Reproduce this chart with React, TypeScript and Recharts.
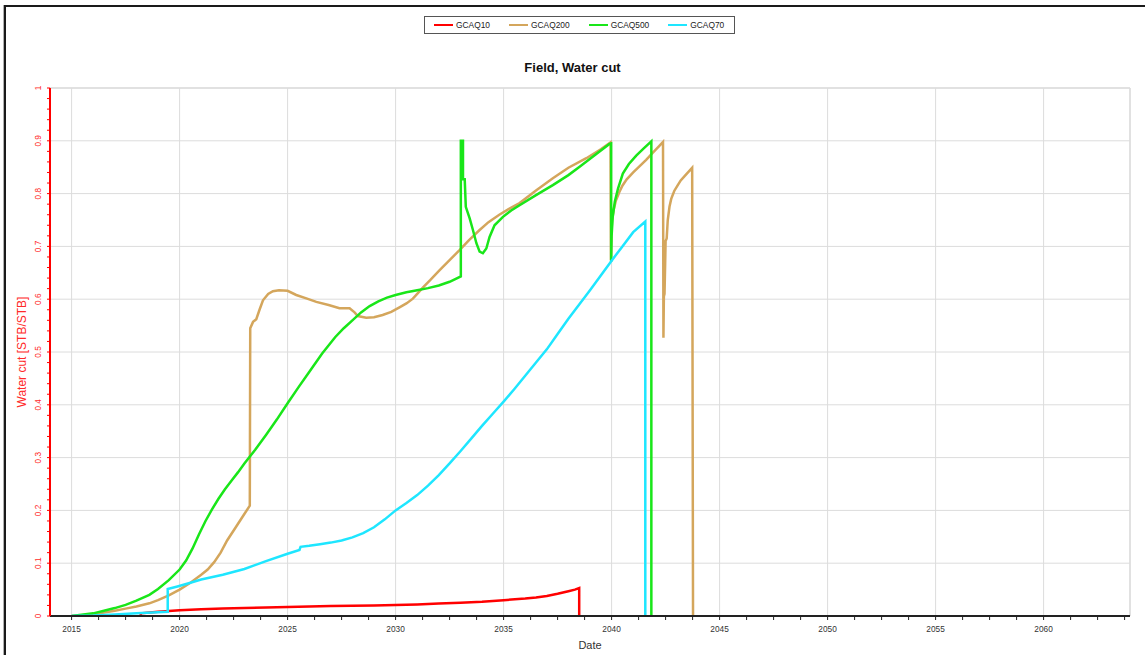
import React from 'react';
import { LineChart, Line, XAxis, YAxis, CartesianGrid, Legend, ReferenceLine } from 'recharts';

type Pt = [number, number];

const X_MAJOR = [2015, 2020, 2025, 2030, 2035, 2040, 2045, 2050, 2055, 2060];
const Y_MAJOR = [0, 0.1, 0.2, 0.3, 0.4, 0.5, 0.6, 0.7, 0.8, 0.9, 1];
const X_DOMAIN = [2014, 2064];

const GCAQ10: Pt[] = [
  [2018.2, 0], [2018.2, 0.005], [2019, 0.008], [2020, 0.011], [2021, 0.013], [2022, 0.014],
  [2023, 0.015], [2024, 0.016], [2025, 0.017], [2026, 0.018], [2027, 0.019], [2028, 0.0195],
  [2029, 0.02], [2030, 0.021], [2031, 0.022], [2032, 0.0235], [2033, 0.025], [2034, 0.027],
  [2035, 0.03], [2036, 0.033], [2036.5, 0.035], [2037, 0.038], [2037.5, 0.042], [2038, 0.047],
  [2038.3, 0.05], [2038.5, 0.053], [2038.5, 0],
];

const GCAQ200: Pt[] = [
  [2015, 0], [2015.5, 0.001], [2016, 0.003], [2016.3, 0.005], [2017, 0.01], [2017.5, 0.014],
  [2018, 0.018], [2018.6, 0.024], [2019, 0.03], [2019.5, 0.039], [2020, 0.05], [2020.5, 0.063],
  [2021, 0.078], [2021.3, 0.088], [2021.6, 0.102], [2021.9, 0.12], [2022.2, 0.143], [2022.6, 0.168],
  [2022.9, 0.187], [2023.25, 0.209], [2023.27, 0.545], [2023.4, 0.557], [2023.55, 0.562], [2023.7, 0.58],
  [2023.86, 0.598], [2024.1, 0.61], [2024.32, 0.615], [2024.6, 0.617], [2025, 0.616], [2025.4, 0.608],
  [2025.9, 0.601], [2026.33, 0.595], [2026.9, 0.589], [2027.4, 0.583], [2027.87, 0.583], [2028.1, 0.575],
  [2028.25, 0.568], [2028.64, 0.565], [2029, 0.566], [2029.4, 0.57], [2029.8, 0.576], [2030.2, 0.585],
  [2030.5, 0.592], [2030.8, 0.601], [2031, 0.61], [2031.26, 0.622], [2031.6, 0.636], [2032.04, 0.655],
  [2032.5, 0.674], [2032.96, 0.693], [2033.4, 0.712], [2033.89, 0.731], [2034.3, 0.746], [2034.8, 0.76],
  [2035.25, 0.771], [2035.74, 0.782], [2036.5, 0.806], [2037.28, 0.829], [2038, 0.849], [2038.83, 0.867],
  [2039.5, 0.884], [2039.95, 0.897], [2039.97, 0.674], [2039.99, 0.72], [2040.02, 0.75], [2040.1, 0.77],
  [2040.2, 0.787], [2040.35, 0.802], [2040.5, 0.815], [2040.7, 0.827], [2041, 0.84], [2041.3, 0.852],
  [2041.6, 0.864], [2041.9, 0.877], [2042.2, 0.89], [2042.38, 0.898], [2042.4, 0.527], [2042.42, 0.605],
  [2042.45, 0.61], [2042.48, 0.668], [2042.5, 0.71], [2042.55, 0.715], [2042.6, 0.75], [2042.68, 0.775],
  [2042.76, 0.79], [2042.9, 0.805], [2043.05, 0.815], [2043.2, 0.825], [2043.4, 0.834], [2043.6, 0.843],
  [2043.73, 0.849], [2043.77, 0],
];

const GCAQ500: Pt[] = [
  [2015, 0], [2016, 0.005], [2016.5, 0.01], [2017, 0.015], [2017.5, 0.021], [2018, 0.029],
  [2018.6, 0.04], [2019, 0.051], [2019.5, 0.068], [2020, 0.088], [2020.3, 0.105], [2020.6, 0.128],
  [2020.9, 0.155], [2021.2, 0.18], [2021.5, 0.202], [2021.8, 0.222], [2022.1, 0.24], [2022.4, 0.256],
  [2022.7, 0.272], [2023, 0.289], [2023.5, 0.315], [2024, 0.343], [2024.5, 0.372], [2025, 0.403],
  [2025.5, 0.433], [2026, 0.462], [2026.6, 0.497], [2027.2, 0.528], [2027.6, 0.545], [2028, 0.56],
  [2028.4, 0.575], [2028.8, 0.587], [2029.2, 0.596], [2029.6, 0.603], [2030, 0.608], [2030.5, 0.613],
  [2031, 0.617], [2031.5, 0.621], [2032, 0.626], [2032.5, 0.633], [2033.02, 0.643], [2033.02, 0.9],
  [2033.12, 0.9], [2033.12, 0.827], [2033.2, 0.827], [2033.25, 0.775], [2033.43, 0.753], [2033.58, 0.731],
  [2033.74, 0.706], [2033.89, 0.69], [2034.04, 0.687], [2034.2, 0.696], [2034.35, 0.718], [2034.58, 0.74],
  [2034.97, 0.756], [2035.35, 0.768], [2035.74, 0.778], [2036.5, 0.797], [2037.28, 0.816], [2038, 0.835],
  [2038.52, 0.851], [2039.2, 0.872], [2039.9, 0.894], [2039.98, 0.895], [2039.98, 0.671], [2040, 0.72],
  [2040.05, 0.755], [2040.15, 0.785], [2040.3, 0.81], [2040.52, 0.838], [2040.8, 0.856], [2041.14, 0.872],
  [2041.5, 0.886], [2041.84, 0.899], [2041.84, 0],
];

const GCAQ70: Pt[] = [
  [2015, 0], [2016, 0.001], [2017, 0.003], [2018, 0.005], [2019, 0.007], [2019.45, 0.008],
  [2019.45, 0.051], [2019.9, 0.056], [2020.5, 0.063], [2021, 0.069], [2022, 0.078], [2023, 0.089],
  [2024, 0.104], [2025, 0.118], [2025.55, 0.125], [2025.6, 0.131], [2026, 0.133], [2026.5, 0.136],
  [2027, 0.139], [2027.5, 0.143], [2028, 0.149], [2028.5, 0.157], [2029, 0.168], [2029.5, 0.183],
  [2030, 0.2], [2030.5, 0.214], [2031, 0.229], [2031.5, 0.247], [2032, 0.267], [2032.5, 0.289],
  [2033, 0.312], [2033.5, 0.336], [2034, 0.36], [2034.5, 0.383], [2035, 0.406], [2035.5, 0.43],
  [2036, 0.455], [2036.5, 0.48], [2037, 0.505], [2037.5, 0.534], [2038, 0.563], [2038.5, 0.59],
  [2039, 0.617], [2039.5, 0.645], [2040, 0.673], [2040.5, 0.7], [2041, 0.727], [2041.56, 0.747],
  [2041.56, 0],
];

const SERIES = [
  { name: 'GCAQ10', color: '#ff0000', pts: GCAQ10 },
  { name: 'GCAQ200', color: '#d4a65c', pts: GCAQ200 },
  { name: 'GCAQ500', color: '#19e619', pts: GCAQ500 },
  { name: 'GCAQ70', color: '#1ee6ff', pts: GCAQ70 },
];

const X_ALL: number[] = X_MAJOR.flatMap((v) => [v, v + 1.25, v + 2.5, v + 3.75]);
const Y_ALL: number[] = Y_MAJOR.flatMap((v, i) =>
  i === Y_MAJOR.length - 1 ? [v] : [0, 1, 2, 3, 4].map((k) => +(v + k * 0.02).toFixed(2))
);

const FONT = '"Liberation Sans", Arial, sans-serif';
const GRID = '#dcdcdc';

const isMajorX = (v: number) => X_MAJOR.includes(v);
const isMajorY = (v: number) => Y_MAJOR.some((m) => Math.abs(m - v) < 1e-6);

const XTick = (props: any) => {
  const { x, y, payload } = props;
  if (!isMajorX(payload.value)) return <g />;
  return (
    <text x={x} y={y} dy="0.71em" textAnchor="middle" fontSize={8.3} fill="#333" fontFamily={FONT}>
      {payload.value}
    </text>
  );
};

const YTick = (props: any) => {
  const { x, y, payload } = props;
  if (!isMajorY(payload.value)) return <g />;
  const label = String(+payload.value.toFixed(1));
  return (
    <text
      x={x}
      y={y}
      transform={`rotate(-90 ${x} ${y})`}
      textAnchor="middle"
      fontSize={8.3}
      fill="#ff2a2a"
      fontFamily={FONT}
    >
      {label}
    </text>
  );
};

const renderLegend = () => (
  <div style={{ position: 'relative', width: 1145, height: 70, fontFamily: FONT }}>
    <div
      style={{
        position: 'absolute',
        left: 424,
        top: 0,
        width: 311,
        height: 18,
        boxSizing: 'border-box',
        border: '1px solid #555',
        display: 'flex',
        alignItems: 'center',
        paddingLeft: 9,
        background: '#fff',
      }}
    >
      {SERIES.map((s) => (
        <div key={s.name} style={{ display: 'flex', alignItems: 'center', marginRight: 19 }}>
          <span style={{ display: 'inline-block', width: 19, height: 2.5, background: s.color, marginRight: 3 }} />
          <span style={{ fontSize: 8.4, color: '#222', lineHeight: '10px' }}>{s.name}</span>
        </div>
      ))}
    </div>
    <div
      style={{
        position: 'absolute',
        left: 0,
        top: 45,
        width: 1145,
        textAlign: 'center',
        fontSize: 13,
        lineHeight: '13px',
        fontWeight: 'bold',
        color: '#111',
      }}
    >
      Field, Water cut
    </div>
  </div>
);

export default function App() {
  return (
    <div style={{ position: 'absolute', left: 0, top: 0, width: 1145, height: 655, background: '#fff' }}>
      <LineChart width={1145} height={655} margin={{ top: 88, right: 15, bottom: 0, left: 0 }}>
        <XAxis xAxisId="grid" type="number" dataKey="x" domain={X_DOMAIN} ticks={X_MAJOR} hide allowDataOverflow />
        <YAxis yAxisId="grid" type="number" domain={[0, 1]} ticks={Y_MAJOR} hide allowDataOverflow />
        <CartesianGrid xAxisId="grid" yAxisId="grid" stroke={GRID} strokeWidth={1} />
        <XAxis
          type="number"
          dataKey="x"
          domain={X_DOMAIN}
          ticks={X_ALL}
          interval={0}
          height={39}
          allowDataOverflow
          axisLine={{ stroke: '#222', strokeWidth: 2 }}
          tickLine={{ stroke: '#222' }}
          tickSize={4}
          tickMargin={6}
          tick={<XTick />}
          label={{ value: 'Date', position: 'insideBottom', offset: 6, fontSize: 11, fill: '#333', fontFamily: FONT }}
        />
        <YAxis
          type="number"
          domain={[0, 1]}
          ticks={Y_ALL}
          interval={0}
          width={50}
          allowDataOverflow
          axisLine={{ stroke: '#ff0000', strokeWidth: 2 }}
          tickLine={{ stroke: '#ff0000' }}
          tickSize={3}
          tickMargin={6}
          tick={<YTick />}
          label={{
            value: 'Water cut [STB/STB]',
            angle: -90,
            position: 'insideLeft',
            offset: 22,
            fontSize: 12,
            fill: '#ff2a2a',
            fontFamily: FONT,
            style: { textAnchor: 'middle' },
          }}
        />
        <ReferenceLine x={X_DOMAIN[1]} stroke={GRID} strokeWidth={1.5} />
        <ReferenceLine y={1} stroke={GRID} strokeWidth={1.5} />
        <Legend verticalAlign="middle" align="center" layout="horizontal" content={renderLegend}
          wrapperStyle={{ top: 16, left: 0, width: 1145, height: 70 }} />
        {SERIES.map((s) => (
          <Line
            key={s.name}
            name={s.name}
            data={s.pts.map(([x, y]) => ({ x, y }))}
            dataKey="y"
            type="linear"
            stroke={s.color}
            strokeWidth={2.5}
            dot={false}
            activeDot={false}
            isAnimationActive={false}
          />
        ))}
      </LineChart>
      <div
        style={{
          position: 'absolute',
          left: 4,
          top: 5,
          width: 1141,
          height: 650,
          boxSizing: 'border-box',
          borderTop: '2px solid #1a1a1a',
          borderLeft: '2px solid #1a1a1a',
          boxShadow: '-1px 0 0 #b0b0b0',
          pointerEvents: 'none',
        }}
      />
    </div>
  );
}
